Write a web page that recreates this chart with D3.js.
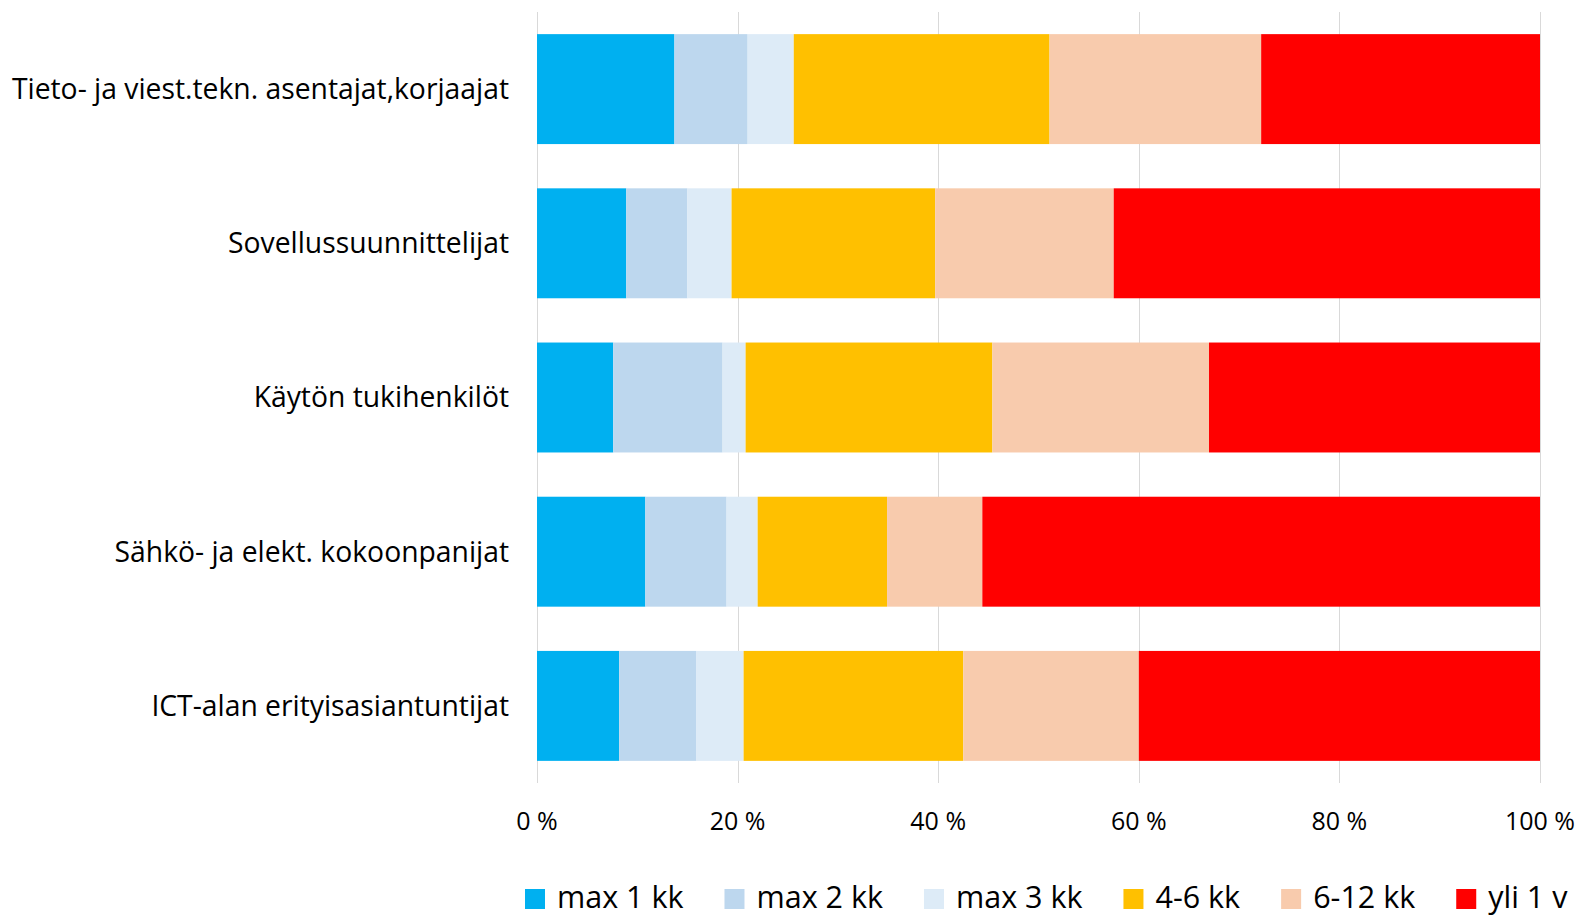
<!DOCTYPE html>
<html>
<head>
<meta charset="utf-8">
<script src="https://cdn.jsdelivr.net/npm/d3@7"></script>
<style>
  html, body { margin: 0; padding: 0; background: #fff; }
  svg { display: block; font-family: "Open Sans", "Noto Sans", sans-serif; }
</style>
</head>
<body>
<svg id="chart" width="1580" height="918"></svg>
<script>
// categories, top to bottom
const categories = [
  "Tieto- ja viest.tekn. asentajat,korjaajat",
  "Sovellussuunnittelijat",
  "Käytön tukihenkilöt",
  "Sähkö- ja elekt. kokoonpanijat",
  "ICT-alan erityisasiantuntijat"
];

const seriesNames = ["max 1 kk", "max 2 kk", "max 3 kk", "4-6 kk", "6-12 kk", "yli 1 v"];
const seriesColors = ["#00B0F0", "#BDD7EE", "#DDEBF7", "#FFC000", "#F8CBAD", "#FF0000"];

// share (%) per category, in category order
const max1kk  = [13.7,  8.9,  7.6, 10.8,  8.2];
const max2kk  = [ 7.3,  6.1, 10.9,  8.1,  7.7];
const max3kk  = [ 4.6,  4.4,  2.3,  3.1,  4.7];
const kk4to6  = [25.5, 20.3, 24.6, 12.9, 21.9];
const kk6to12 = [21.1, 17.8, 21.6,  9.5, 17.5];
const yli1v   = [27.8, 42.5, 33.0, 55.6, 40.0];

const tickValues = [0, 20, 40, 60, 80, 100];

const seriesValues = [max1kk, max2kk, max3kk, kk4to6, kk6to12, yli1v];

const rows = categories.map((c, i) => {
  const r = { category: c };
  seriesNames.forEach((s, j) => { r[s] = seriesValues[j][i]; });
  return r;
});

const svg = d3.select("#chart");

const plot = { left: 537, right: 1540, top: 12, bottom: 783 };

const x = d3.scaleLinear().domain([0, 100]).range([plot.left, plot.right]);
const y = d3.scaleBand()
  .domain(categories)
  .range([plot.top, plot.bottom])
  .paddingInner(0.287)
  .paddingOuter(0.1435);

const color = d3.scaleOrdinal().domain(seriesNames).range(seriesColors);

// gridlines
svg.append("g")
  .selectAll("line")
  .data(tickValues)
  .join("line")
  .attr("x1", d => Math.round(x(d)) + 0.5)
  .attr("x2", d => Math.round(x(d)) + 0.5)
  .attr("y1", plot.top)
  .attr("y2", plot.bottom)
  .attr("stroke", "#d9d9d9")
  .attr("stroke-width", 1);

// stacked bars
const stacked = d3.stack().keys(seriesNames)(rows);

svg.append("g")
  .selectAll("g")
  .data(stacked)
  .join("g")
  .attr("fill", d => color(d.key))
  .selectAll("rect")
  .data(d => d)
  .join("rect")
  .attr("x", d => x(d[0]))
  .attr("width", d => x(d[1]) - x(d[0]))
  .attr("y", d => y(d.data.category))
  .attr("height", y.bandwidth());

// x tick labels
svg.append("g")
  .selectAll("text")
  .data(tickValues)
  .join("text")
  .attr("x", d => x(d))
  .attr("y", 821)
  .attr("dy", "0.35em")
  .attr("text-anchor", "middle")
  .attr("font-size", 25)
  .attr("fill", "#000")
  .text(d => `${d} %`);

// category labels
svg.append("g")
  .selectAll("text")
  .data(categories)
  .join("text")
  .attr("x", 509)
  .attr("y", d => y(d) + y.bandwidth() / 2)
  .attr("dy", "0.35em")
  .attr("text-anchor", "end")
  .attr("font-size", 28.3)
  .attr("fill", "#000")
  .text(d => d);

// legend
const legend = svg.append("g");
let lx = 525;
seriesNames.forEach(name => {
  const item = legend.append("g").attr("transform", `translate(${lx},0)`);
  item.append("rect")
    .attr("x", 0)
    .attr("y", 889)
    .attr("width", 20)
    .attr("height", 20)
    .attr("fill", color(name));
  const t = item.append("text")
    .attr("x", 32)
    .attr("y", 897)
    .attr("dy", "0.35em")
    .attr("font-size", 30.5)
    .attr("fill", "#000")
    .text(name);
  lx += 32 + t.node().getComputedTextLength() + 41;
});
</script>
</body>
</html>
